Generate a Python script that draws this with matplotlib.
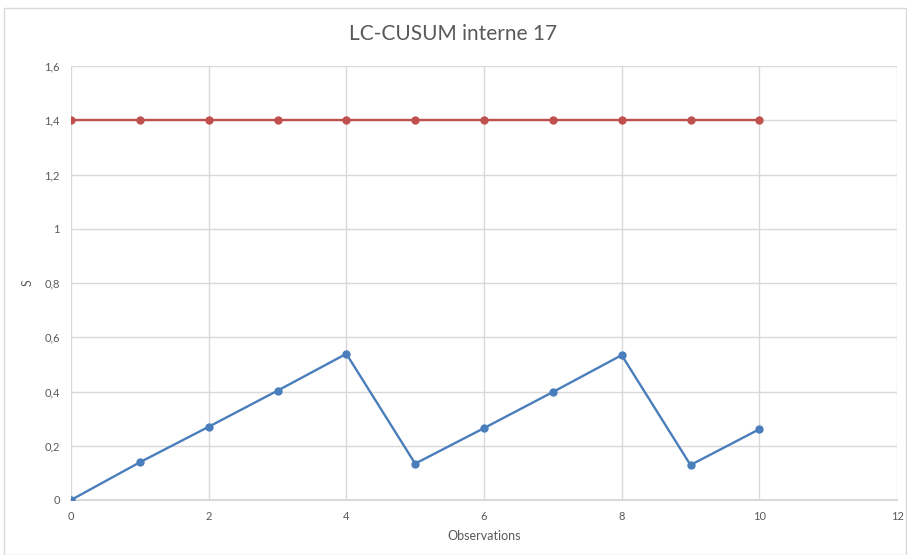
import matplotlib
matplotlib.use("Agg")
import matplotlib.pyplot as plt
from matplotlib.patches import Rectangle
from matplotlib.ticker import FuncFormatter

plt.rcParams['font.family'] = ['Lato', 'DejaVu Sans']

obs = [0, 1, 2, 3, 4, 5, 6, 7, 8, 9, 10]
s_values = [0, 0.139, 0.270, 0.403, 0.539, 0.134, 0.265, 0.398, 0.534, 0.129, 0.261]
limit = [1.4] * 11

fig = plt.figure(figsize=(9.07, 5.55), dpi=100)
ax = fig.add_axes([71 / 907, 1 - 500 / 555, 826 / 907, 434 / 555])

# chart area border
fig.patches.append(Rectangle((4 / 907, 0), 902 / 907, 1 - 8 / 555, transform=fig.transFigure,
                             fill=False, edgecolor='#d9d9d9', linewidth=1))

ax.plot(obs, limit, color='#c0504d', linewidth=1.7, marker='o', markersize=5, zorder=3)
ax.plot(obs, s_values, color='#4a7ebb', linewidth=1.7, marker='o', markersize=5, zorder=3)

ax.set_xlim(0, 12)
ax.set_ylim(0, 1.6)
ax.set_xticks(range(0, 13, 2))
ax.set_yticks([0, 0.2, 0.4, 0.6, 0.8, 1.0, 1.2, 1.4, 1.6])
ax.yaxis.set_major_formatter(FuncFormatter(lambda v, p: ('%g' % round(v, 1)).replace('.', ',')))

ax.grid(True, color='#d9d9d9', linewidth=1)
ax.set_axisbelow(True)
for side in ['top', 'right', 'left']:
    ax.spines[side].set_visible(False)
ax.spines['bottom'].set_color('#d9d9d9')
ax.spines['bottom'].set_linewidth(1.5)
ax.tick_params(length=0, labelsize=8, colors='#595959', pad=8)

ax.set_xlabel('Observations', fontsize=9, color='#595959', labelpad=6)
ax.set_ylabel('S', fontsize=9, color='#595959', labelpad=8)
fig.text(0.5, 1 - 34 / 555, 'LC-CUSUM interne 17', ha='center', va='center',
         fontsize=15, color='#595959')

fig.savefig('out.png', dpi=100)
